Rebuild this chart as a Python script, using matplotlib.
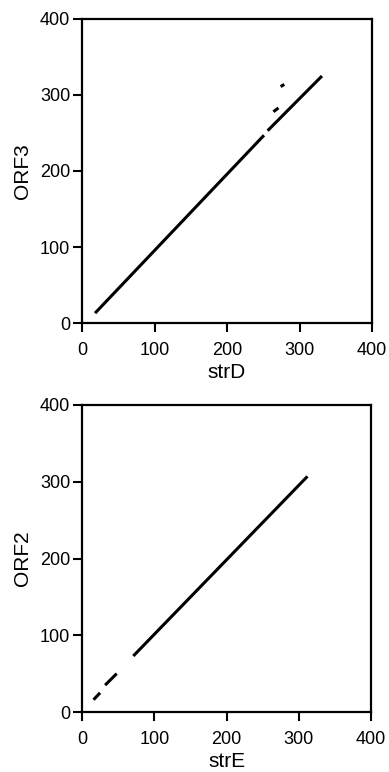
import matplotlib
matplotlib.use("Agg")
import matplotlib.pyplot as plt

plt.rcParams['font.family'] = ['Liberation Sans', 'DejaVu Sans']

# strD vs ORF3 - matching segments (start x, start y, end x, end y)
d_x0 = [18, 256, 264, 274]
d_y0 = [13, 253, 278, 311]
d_x1 = [251, 331, 271, 279]
d_y1 = [247, 325, 283, 314]

# strE vs ORF2
e_x0 = [16, 32, 71]
e_y0 = [16, 35, 73]
e_x1 = [25, 48, 312]
e_y1 = [25, 50, 307]

ticks = [0, 100, 200, 300, 400]


def draw_panel(ax, x0, y0, x1, y1, xlabel, ylabel):
    for a, b, c, d in zip(x0, y0, x1, y1):
        ax.plot([a, c], [b, d], color='black', linewidth=2.2, solid_capstyle='butt')
    ax.set_xlim(0, 400)
    ax.set_ylim(0, 400)
    ax.set_xticks(ticks)
    ax.set_yticks(ticks)
    ax.tick_params(direction='out', length=6.5, width=1.5, labelsize=13)
    ax.tick_params(axis='x', pad=7)
    ax.tick_params(axis='y', pad=2)
    for s in ax.spines.values():
        s.set_linewidth(1.6)
    ax.set_xlabel(xlabel, fontsize=15, labelpad=3)
    ax.set_ylabel(ylabel, fontsize=15, labelpad=6)


fig = plt.figure(figsize=(3.89, 7.72), dpi=100)
ax1 = fig.add_axes([0.2108, 0.5816, 0.7455, 0.3938])
ax2 = fig.add_axes([0.2108, 0.0777, 0.7430, 0.3977])

draw_panel(ax1, d_x0, d_y0, d_x1, d_y1, 'strD', 'ORF3')
draw_panel(ax2, e_x0, e_y0, e_x1, e_y1, 'strE', 'ORF2')

fig.savefig('out.png', dpi=100)
